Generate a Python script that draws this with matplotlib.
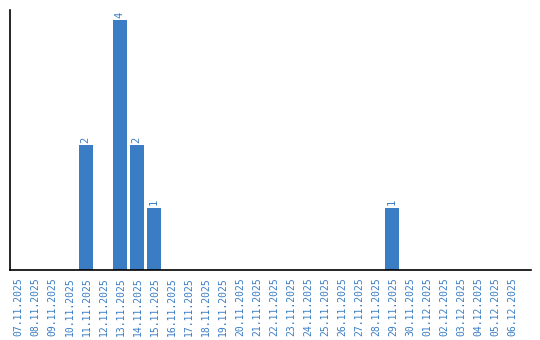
import numpy as np
import pandas as pd
import matplotlib
matplotlib.use('Agg')
import matplotlib.pyplot as plt

dates = pd.date_range('2025-11-07', '2025-12-06', freq='D')
labels = [d.strftime('%d.%m.%Y') for d in dates]
counts = [0] * len(labels)
values = {'11.11.2025': 2, '13.11.2025': 4, '14.11.2025': 2, '15.11.2025': 1, '29.11.2025': 1}
for k, v in values.items():
    counts[labels.index(k)] = v

blue = '#3a7dc4'
mono = 'DejaVu Sans Mono'

fig = plt.figure(figsize=(5.4, 3.4), dpi=100)
ax = fig.add_axes([10 / 540, 70 / 340, 521 / 540, 260 / 340])

x = np.arange(len(labels))
ax.bar(x - 0.06, counts, width=0.82, color=blue)
for xi, c in zip(x, counts):
    if c > 0:
        ax.text(xi - 0.06, c + 0.04, str(c), rotation=90, ha='center', va='bottom',
                color=blue, fontsize=7.5, family=mono)

ax.set_xlim(-0.5, 30.1)
ax.set_ylim(0, 4.16)
ax.set_xticks(x)
ax.set_xticklabels(labels, rotation=90, color=blue, fontsize=7, family=mono)
ax.tick_params(axis='x', length=0, pad=5)
ax.set_yticks([])
ax.spines['top'].set_visible(False)
ax.spines['right'].set_visible(False)
ax.spines['left'].set_linewidth(1.2)
ax.spines['bottom'].set_linewidth(1.2)

plt.savefig('out.png', dpi=100)
